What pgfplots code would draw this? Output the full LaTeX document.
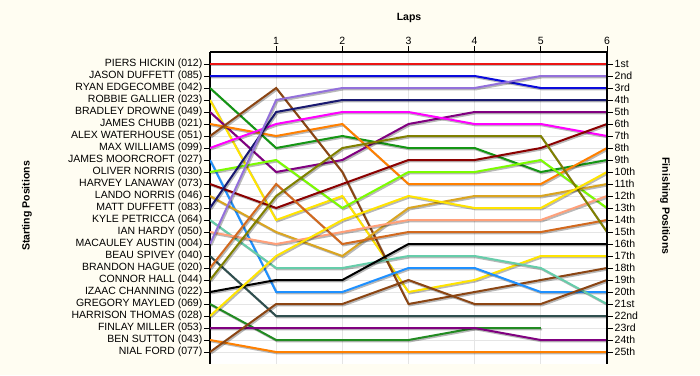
\documentclass[border=0pt]{standalone}
\usepackage{pgfplots}
\pgfplotsset{compat=1.18}
\usepackage{pgfplotstable}
\usepackage{fontspec}
\setmainfont{Liberation Sans}
\definecolor{bg}{RGB}{255,253,242}
\definecolor{c1}{RGB}{235,20,20}
\definecolor{c2}{RGB}{10,10,220}
\definecolor{c3}{RGB}{20,150,20}
\definecolor{c4}{RGB}{255,228,0}
\definecolor{c5}{RGB}{128,0,128}
\definecolor{c6}{RGB}{255,128,0}
\definecolor{c7}{RGB}{139,69,19}
\definecolor{c8}{RGB}{255,0,255}
\definecolor{c9}{RGB}{30,144,255}
\definecolor{c10}{RGB}{124,252,0}
\definecolor{c11}{RGB}{139,0,0}
\definecolor{c12}{RGB}{218,165,32}
\definecolor{c13}{RGB}{25,25,112}
\definecolor{c14}{RGB}{102,205,170}
\definecolor{c15}{RGB}{255,160,122}
\definecolor{c16}{RGB}{147,112,219}
\definecolor{c17}{RGB}{47,79,79}
\definecolor{c18}{RGB}{210,105,30}
\definecolor{c19}{RGB}{128,128,0}
\definecolor{c20}{RGB}{0,0,0}
\definecolor{c21}{RGB}{34,139,34}
\definecolor{c22}{RGB}{255,228,0}
\definecolor{c23}{RGB}{128,0,128}
\definecolor{c24}{RGB}{255,128,0}
\definecolor{c25}{RGB}{139,69,19}

\pgfplotstableread{
lap d1 d2 d3 d4 d5 d6 d7 d8 d9 d10 d11 d12 d13 d14 d15 d16 d17 d18 d19 d20 d21 d22 d23 d24 d25
0 1 2 3 4 5 6 7 8 9 10 11 12 13 14 15 16 17 18 19 20 21 22 23 24 25
1 1 2 8 14 10 7 3 6 20 9 13 15 5 18 16 4 22 11 12 19 24 17 23 25 21
2 1 2 7 12 9 6 10 5 20 13 11 17 4 18 15 3 22 16 8 19 24 14 23 25 21
3 1 2 8 20 6 11 21 5 18 10 9 13 4 17 14 3 22 15 7 16 24 12 23 25 19
4 1 2 8 19 5 11 20 6 18 10 9 12 4 17 14 3 22 15 7 16 23 13 23 25 21
5 1 3 10 17 5 11 19 6 20 9 8 12 4 18 14 2 22 15 7 16 23 13 24 25 21
6 1 3 9 17 5 8 18 7 20 13 6 11 4 21 12 2 22 14 15 16 nan 10 24 25 19
}\data

\newcommand{\drv}[1]{%
  \addplot[black, opacity=0.28, line width=2pt, transform canvas={xshift=1.2pt,yshift=-1.4pt}] table[x=lap,y=d#1]{\data};
  \addplot[c#1, line width=2pt] table[x=lap,y=d#1]{\data};
}

\begin{document}
\begin{tikzpicture}[x=1pt,y=1pt]
\fill[bg] (0,0) rectangle (700,375);
\begin{axis}[at={(210pt,11pt)}, anchor=south west, scale only axis,
  width=397pt, height=312pt,
  xmin=0, xmax=6, ymin=0, ymax=26, y dir=reverse,
  axis x line=top, axis y line=left,
  axis line style={-, line width=1.2pt, black},
  axis background/.style={fill=white},
  xtick={1,...,6}, xticklabels={1,2,3,4,5,6},
  ytick={1,...,25},
  yticklabels={PIERS HICKIN (012),JASON DUFFETT (085),RYAN EDGECOMBE (042),ROBBIE GALLIER (023),BRADLEY DROWNE (049),JAMES CHUBB (021),ALEX WATERHOUSE (051),MAX WILLIAMS (099),JAMES MOORCROFT (027),OLIVER NORRIS (030),HARVEY LANAWAY (073),LANDO NORRIS (046),MATT DUFFETT (083),KYLE PETRICCA (064),IAN HARDY (050),MACAULEY AUSTIN (004),BEAU SPIVEY (040),BRANDON HAGUE (020),CONNOR HALL (044),IZAAC CHANNING (022),GREGORY MAYLED (069),HARRISON THOMAS (028),FINLAY MILLER (053),BEN SUTTON (043),NIAL FORD (077)},
  tick align=outside, major tick length=6pt,
  tick style={black, line width=0.8pt},
  grid=major, major grid style={black!10, line width=0.7pt},
  ticklabel style={font=\fontsize{10.5}{12}\selectfont, inner sep=1.5pt},
  /pgf/number format/assume math mode=true,
]
\drv{1}\drv{2}\drv{3}\drv{4}\drv{5}\drv{6}\drv{7}\drv{8}\drv{9}\drv{10}
\drv{11}\drv{12}\drv{13}\drv{14}\drv{15}\drv{16}\drv{17}\drv{18}\drv{19}\drv{20}
\drv{21}\drv{22}\drv{23}\drv{24}\drv{25}
\end{axis}
\begin{axis}[at={(210pt,11pt)}, anchor=south west, scale only axis,
  width=397pt, height=312pt,
  xmin=0, xmax=6, ymin=0, ymax=26, y dir=reverse,
  axis x line=none, axis y line=right,
  axis line style={-, line width=2pt, black},
  ytick={1,...,25},
  yticklabels={1st,2nd,3rd,4th,5th,6th,7th,8th,9th,10th,11th,12th,13th,14th,15th,16th,17th,18th,19th,20th,21st,22nd,23rd,24th,25th},
  tick align=outside, major tick length=6pt,
  tick style={black, line width=0.8pt},
  ticklabel style={font=\fontsize{10.5}{12}\selectfont, inner sep=1.5pt},
]
\end{axis}
\node[font=\bfseries\fontsize{10.5}{12}\selectfont] at (409,357) {Laps};
\node[font=\bfseries\fontsize{10.5}{12}\selectfont, rotate=90] at (27,169) {Starting Positions};
\node[font=\bfseries\fontsize{10.5}{12}\selectfont, rotate=-90] at (665,169) {Finishing Positions};
\pgfresetboundingbox
\path (0,0) rectangle (700,375);
\end{tikzpicture}
\end{document}
